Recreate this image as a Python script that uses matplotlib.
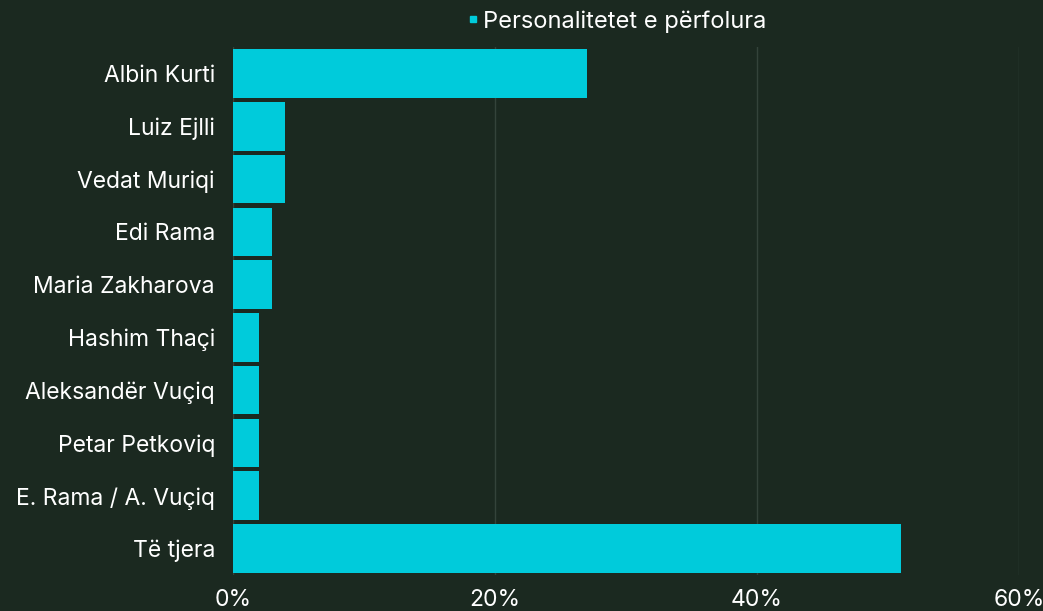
import numpy as np
import matplotlib.pyplot as plt
from matplotlib.lines import Line2D

names = ["Albin Kurti", "Luiz Ejlli", "Vedat Muriqi", "Edi Rama", "Maria Zakharova",
         "Hashim Thaçi", "Aleksandër Vuçiq", "Petar Petkoviq", "E. Rama / A. Vuçiq", "Të tjera"]
shares = [27, 4, 4, 3, 3, 2, 2, 2, 2, 51]
series_name = "Personalitetet e përfolura"
x_ticks = [0, 20, 40, 60]

bg = "#1b2920"
bar_color = "#00cbdb"
grid_color = "#34433a"

plt.rcParams["font.family"] = ["Inter", "DejaVu Sans"]

fig = plt.figure(figsize=(10.43, 6.11), dpi=100, facecolor=bg)
ax = fig.add_axes([0.2234, 0.059, 0.7536, 0.864], facecolor=bg)

y = np.arange(len(names))
ax.barh(y, shares, height=0.92, color=bar_color, zorder=3)
ax.set_ylim(len(names) - 0.5, -0.5)
ax.set_xlim(0, 60)

ax.set_yticks(y)
ax.set_yticklabels(names)
ax.set_xticks(x_ticks)
ax.set_xticklabels([f"{t}%" for t in x_ticks])
ax.tick_params(axis="both", length=0, colors="white", labelsize=16.5)
ax.tick_params(axis="y", pad=13)
ax.tick_params(axis="x", pad=10)

ax.grid(axis="x", color=grid_color, linewidth=1, zorder=0)
for s in ax.spines.values():
    s.set_visible(False)

handle = Line2D([], [], marker="s", linestyle="none", color=bar_color, markersize=5)
leg = fig.legend([handle], [series_name], loc="center", bbox_to_anchor=(0.59, 0.965),
                 frameon=False, handletextpad=0.1, handlelength=0.7, fontsize=17)
for t in leg.get_texts():
    t.set_color("white")

fig.savefig("out.png", dpi=100, facecolor=bg)
